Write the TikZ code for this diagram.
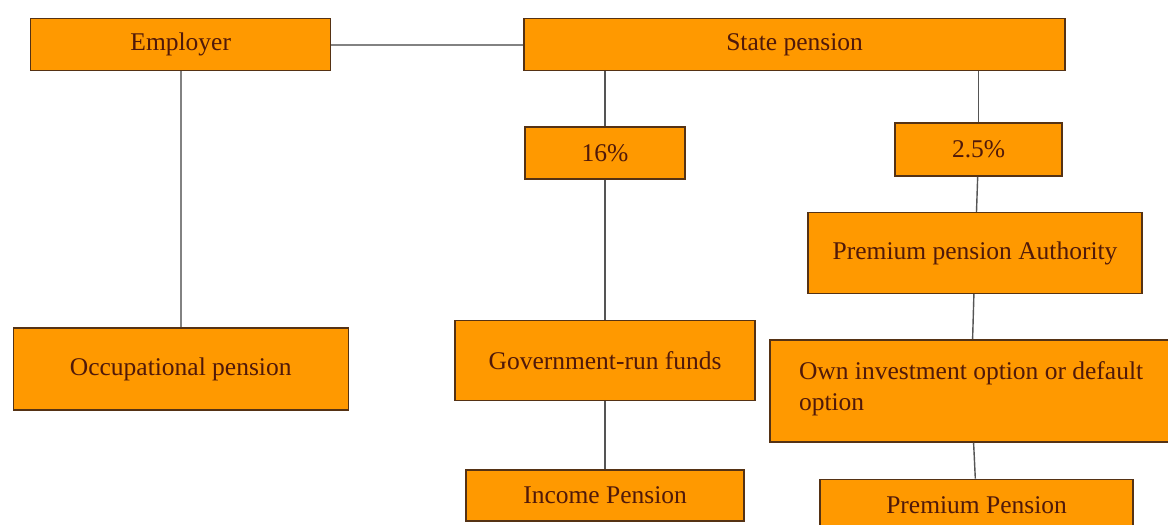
\documentclass[tikz,border=0pt]{standalone}
\usepackage{fontspec}
\setmainfont{Liberation Serif}
\usepackage{xcolor}
\usetikzlibrary{positioning}
\definecolor{boxcol}{RGB}{255,153,0}
\definecolor{edgecol}{RGB}{85,50,20}
\definecolor{txtcol}{RGB}{80,25,10}
\definecolor{linecol}{RGB}{130,130,130}
\definecolor{darkline}{RGB}{85,85,85}
\begin{document}
\begin{tikzpicture}[
    node distance=6mm,
    box/.style={draw=edgecol, fill=boxcol, line width=1.4pt, text=txtcol,
                align=center, inner sep=4pt, minimum height=52pt,
                font=\fontsize{25.5pt}{31pt}\selectfont},
    ln/.style={linecol, line width=2.4pt},
    lnd/.style={darkline, line width=1.4pt}
  ]
  \useasboundingbox (0,0) rectangle (1168pt,-525pt);
  \fill[white] (0,0) rectangle (1168pt,-525pt);

  \node[box, minimum width=300pt, anchor=north west] (employer) at (30pt,-18pt) {Employer};
  \node[box, minimum width=541pt, right=192pt of employer] (state) {State pension};

  \node[box, minimum width=160pt, below right=55pt and 1pt of state.south west] (pct16) {16\%};
  \node[box, minimum width=167pt, minimum height=53pt, below left=51pt and 3pt of state.south east] (pct25) {2.5\%};

  \node[box, minimum width=334pt, minimum height=81pt, below=35pt of pct25, xshift=-3.5pt] (ppa) {Premium pension Authority};
  \node[box, minimum width=335pt, minimum height=82pt, below=256pt of employer] (occ) {Occupational pension};
  \node[box, minimum width=300pt, minimum height=80pt, below=140pt of pct16] (govfunds) {Government-run funds};
  \node[box, minimum width=402pt, minimum height=102pt, align=left,
        below=45pt of ppa, xshift=-4pt] (owninv) {Own investment option or default\\option\strut};

  \node[box, minimum width=278pt, minimum height=51pt, below=68pt of govfunds] (income) {Income Pension};
  \node[box, minimum width=313pt, below=36pt of owninv, xshift=5.5pt] (premium) {Premium Pension};

  \draw[ln] (employer) -- (state);
  \draw[ln] (employer) -- (occ);
  \draw[lnd] (state.south -| pct16) -- (pct16);
  \draw[lnd] (pct16) -- (govfunds);
  \draw[lnd] (govfunds) -- (income);
  \draw[lnd] (state.south -| pct25) -- (pct25);
  \draw[lnd] (pct25) -- (ppa);
  \draw[lnd] (ppa) -- (owninv);
  \draw[lnd] (owninv) -- (premium);
\end{tikzpicture}
\end{document}
